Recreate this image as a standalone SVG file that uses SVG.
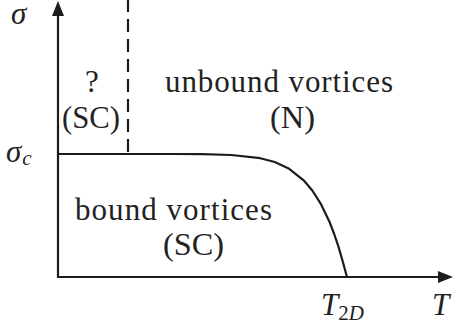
<svg xmlns="http://www.w3.org/2000/svg" width="454" height="330" viewBox="0 0 454 330">
<rect width="454" height="330" fill="#ffffff"/>
<g id="connectors" stroke="#1c1c1c" stroke-width="2.2" fill="none" stroke-linejoin="round">
  <line id="y-axis" x1="58" y1="278" x2="58" y2="12"/>
  <line id="x-axis" x1="57" y1="277" x2="440" y2="277"/>
  <line id="dashed" x1="128" y1="-1" x2="128" y2="154" stroke-dasharray="13 7"/>
  <path id="boundary" d="M58,154 L173.6,154 L202.5,154.2 L231.4,155 L260.3,158.2 L274.75,162 L289.2,168.8 L303.65,180.3 L312.3,190.5 L321,204.2 L329.7,222.3 L334,233.5 L338.3,246.1 L342.6,261 L347,277"/>
  <polygon points="58,1 52,16 64,16" fill="#1c1c1c" stroke="none"/>
  <polygon points="453,277 438,271 438,283" fill="#1c1c1c" stroke="none"/>
</g>
<g id="axis-labels" fill="#222" font-family="Liberation Serif" font-size="31" font-style="italic">
  <text x="11" y="24">σ</text>
  <text x="6" y="162">σ<tspan font-size="21" dx="1" dy="3">c</tspan></text>
  <text x="321" y="315">T<tspan font-size="21" font-style="normal" dy="5">2</tspan><tspan font-size="21">D</tspan></text>
  <text x="432" y="315">T</text>
</g>
<g id="region-unknown" fill="#222" font-family="Liberation Serif" font-size="31">
  <text x="92" y="92" text-anchor="middle">?</text>
  <text x="62" y="128" textLength="58" lengthAdjust="spacingAndGlyphs">(SC)</text>
</g>
<g id="region-unbound" fill="#222" font-family="Liberation Serif" font-size="31">
  <text x="165" y="92" textLength="228" lengthAdjust="spacing">unbound vortices</text>
  <text x="270" y="128" textLength="45" lengthAdjust="spacingAndGlyphs">(N)</text>
</g>
<g id="region-bound" fill="#222" font-family="Liberation Serif" font-size="31">
  <text x="75" y="220" textLength="197" lengthAdjust="spacing">bound vortices</text>
  <text x="163" y="255" textLength="61" lengthAdjust="spacingAndGlyphs">(SC)</text>
</g>
</svg>
